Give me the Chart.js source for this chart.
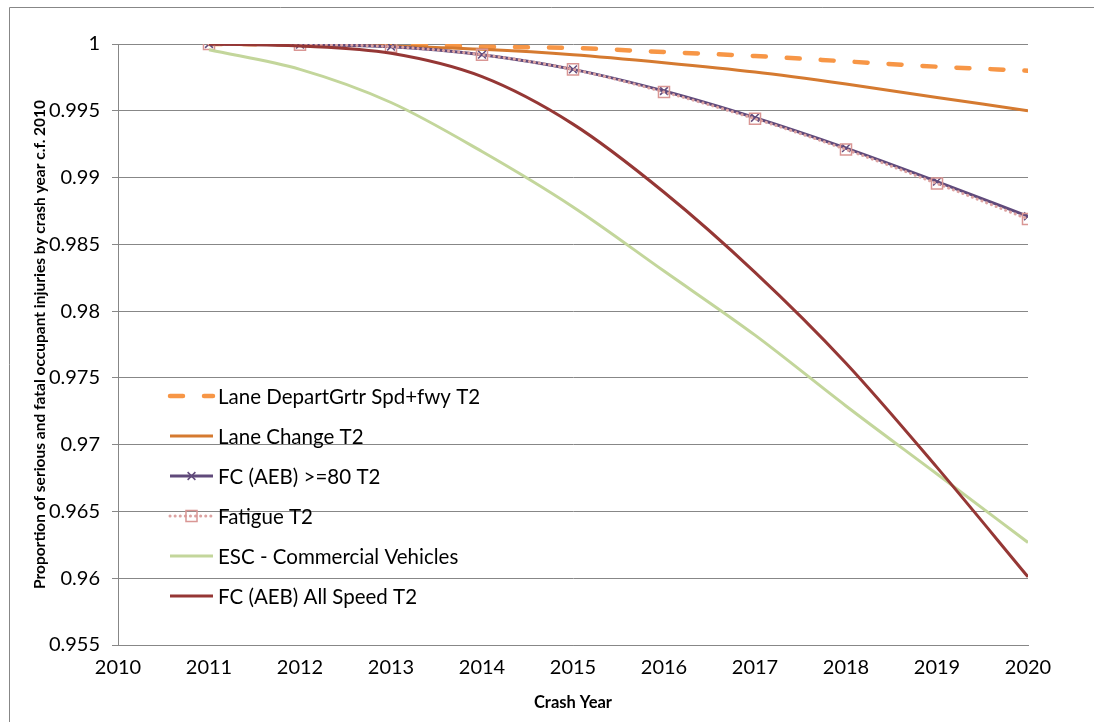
<!DOCTYPE html>
<html>
<head>
<meta charset="utf-8">
<script src="https://cdn.jsdelivr.net/npm/chart.js@4"></script>
<style>
  body { margin: 0; background: #fff; }
  #wrap { width: 1094px; height: 722px; position: relative; }
</style>
</head>
<body>
<div id="wrap"><canvas id="crashChart"></canvas></div>
<script>
const years = [2011, 2012, 2013, 2014, 2015, 2016, 2017, 2018, 2019, 2020];

const laneDepart = [1, 0.99998, 0.99995, 0.9998, 0.9997, 0.9994, 0.9991, 0.9987, 0.9983, 0.998];
const laneChange = [1, 1, 0.99985, 0.9996, 0.9992, 0.9986, 0.9979, 0.997, 0.996, 0.995];
const fc80 = [1, 0.99995, 0.9998, 0.9992, 0.9981, 0.99648, 0.99448, 0.9922, 0.9897, 0.9871];
const fatigue = [1, 0.99995, 0.9998, 0.9992, 0.9981, 0.9964, 0.9944, 0.9921, 0.98955, 0.9869];
const esc = [0.99957, 0.9981, 0.99562, 0.99195, 0.9878, 0.9830, 0.9782, 0.9729, 0.9678, 0.96268];
const fcAll = [1, 0.99985, 0.9993, 0.99755, 0.994, 0.9889, 0.9829, 0.9761, 0.9683, 0.9601];

const xTicks = [2010, 2011, 2012, 2013, 2014, 2015, 2016, 2017, 2018, 2019, 2020];
const yTicks = [0.955, 0.96, 0.965, 0.97, 0.975, 0.98, 0.985, 0.99, 0.995, 1];

const gridGrey = '#878787';
const tickFont = { family: 'Lato', size: 20 };

function pts(vals) {
    return years.map((y, i) => ({ x: y, y: vals[i] }));
}

// legend drawn inside the plot area, like the original
const innerLegend = {
    id: 'innerLegend',
    afterDatasetsDraw(chart) {
        const ctx = chart.ctx;
        const x0 = 170, x1 = 213, tx = 218;
        chart.data.datasets.forEach((ds, i) => {
            const y = 396 + i * 40;
            ctx.save();
            ctx.strokeStyle = ds.borderColor;
            ctx.lineWidth = ds.borderWidth;
            ctx.lineCap = ds.borderCapStyle || 'butt';
            ctx.setLineDash(ds.borderDash || []);
            ctx.beginPath();
            ctx.moveTo(x0, y);
            ctx.lineTo(x1, y);
            ctx.stroke();
            ctx.setLineDash([]);
            const mx = (x0 + x1) / 2;
            if (ds.pointStyle === 'crossRot') {
                const r = ds.pointRadius * Math.SQRT1_2;
                ctx.strokeStyle = ds.pointBorderColor;
                ctx.lineWidth = ds.pointBorderWidth;
                ctx.lineCap = 'butt';
                ctx.beginPath();
                ctx.moveTo(mx - r, y - r); ctx.lineTo(mx + r, y + r);
                ctx.moveTo(mx - r, y + r); ctx.lineTo(mx + r, y - r);
                ctx.stroke();
            } else if (ds.pointStyle === 'rect') {
                const s = ds.pointRadius * Math.SQRT1_2;
                ctx.strokeStyle = ds.pointBorderColor;
                ctx.lineWidth = ds.pointBorderWidth;
                ctx.strokeRect(mx - s, y - s, 2 * s, 2 * s);
            }
            ctx.fillStyle = '#000';
            ctx.font = '20.5px Lato';
            ctx.textBaseline = 'middle';
            ctx.textAlign = 'left';
            ctx.fillText(ds.label, tx, y + 1);
            ctx.restore();
        });
    }
};

const outerBorder = {
    id: 'outerBorder',
    beforeDraw(chart) {
        const ctx = chart.ctx;
        ctx.save();
        ctx.strokeStyle = gridGrey;
        ctx.lineWidth = 1;
        ctx.beginPath();
        ctx.moveTo(9.5, 722);
        ctx.lineTo(9.5, 7.5);
        ctx.lineTo(1094, 7.5);
        ctx.stroke();
        ctx.restore();
    }
};

const ctx = document.getElementById('crashChart').getContext('2d');
new Chart(ctx, {
    type: 'line',
    data: {
        datasets: [{
            label: 'Lane DepartGrtr Spd+fwy T2',
            data: pts(laneDepart),
            borderColor: '#F79646',
            borderWidth: 4.5,
            borderDash: [13, 21],
            borderCapStyle: 'round',
            pointRadius: 0,
            order: 6
        }, {
            label: 'Lane Change T2',
            data: pts(laneChange),
            borderColor: '#D57A30',
            borderWidth: 3,
            pointRadius: 0,
            order: 5
        }, {
            label: 'FC (AEB) >=80 T2',
            data: pts(fc80),
            borderColor: '#604A7B',
            borderWidth: 3,
            pointStyle: 'crossRot',
            pointRadius: 5.5,
            pointBorderColor: '#604A7B',
            pointBorderWidth: 1.5,
            pointBackgroundColor: 'rgba(0,0,0,0)',
            order: 4
        }, {
            label: 'Fatigue T2',
            data: pts(fatigue),
            borderColor: '#DCA3A2',
            borderWidth: 3,
            borderDash: [0.1, 5],
            borderCapStyle: 'round',
            pointStyle: 'rect',
            pointRadius: 7.8,
            pointBorderColor: '#D99694',
            pointBorderWidth: 1.5,
            pointBackgroundColor: 'rgba(0,0,0,0)',
            order: 3
        }, {
            label: 'ESC - Commercial Vehicles',
            data: pts(esc),
            borderColor: '#C3D69B',
            borderWidth: 3,
            pointRadius: 0,
            order: 2
        }, {
            label: 'FC (AEB) All Speed T2',
            data: pts(fcAll),
            borderColor: '#953735',
            borderWidth: 3,
            pointRadius: 0,
            order: 1
        }]
    },
    options: {
        responsive: true,
        maintainAspectRatio: false,
        animation: false,
        cubicInterpolationMode: 'monotone',
        layout: { padding: { top: 44, right: 66, left: 0, bottom: 0 } },
        plugins: {
            legend: { display: false },
            tooltip: { enabled: false }
        },
        scales: {
            x: {
                type: 'linear',
                min: 2010,
                max: 2020,
                afterBuildTicks: s => { s.ticks = xTicks.map(v => ({ value: v })); },
                afterFit: s => { s.height = 77; },
                ticks: {
                    color: '#000',
                    font: tickFont,
                    padding: 5,
                    maxRotation: 0,
                    callback: v => String(v)
                },
                grid: { display: false, drawTicks: true, tickLength: 6, color: gridGrey },
                border: { color: gridGrey, width: 1 },
                title: {
                    display: true,
                    text: 'Crash Year',
                    color: '#000',
                    font: { family: 'Lato', size: 16.5, weight: 'bold' },
                    padding: { top: 0, bottom: 9 }
                }
            },
            y: {
                min: 0.955,
                max: 1,
                afterBuildTicks: s => { s.ticks = yTicks.map(v => ({ value: v })); },
                afterFit: s => { s.width = 118; },
                ticks: {
                    color: '#000',
                    font: tickFont,
                    padding: 12,
                    callback: v => String(v)
                },
                grid: { color: gridGrey, lineWidth: 1, tickLength: 6 },
                border: { color: gridGrey, width: 1 },
                title: {
                    display: true,
                    text: 'Proportion of serious and fatal occupant injuries by crash year c.f. 2010',
                    color: '#000',
                    font: { family: 'Lato', size: 15.5, weight: 'bold' },
                    padding: { top: 31, bottom: 0 }
                }
            }
        }
    },
    plugins: [outerBorder, innerLegend]
});
</script>
</body>
</html>
